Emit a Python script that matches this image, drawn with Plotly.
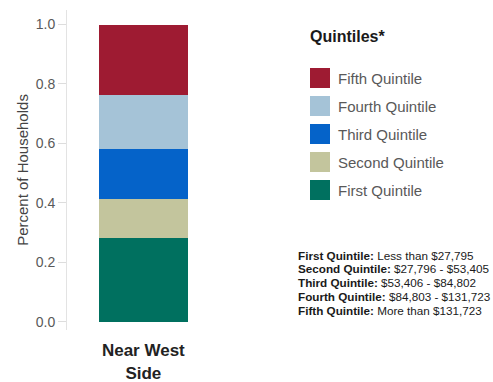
import plotly.graph_objects as go

# ---- data ----
neighborhood = ["Near West<br>Side"]
quintile_names = ["First Quintile", "Second Quintile", "Third Quintile", "Fourth Quintile", "Fifth Quintile"]
quintile_shares = [0.281, 0.132, 0.168, 0.182, 0.237]
quintile_colors = ["#00705F", "#C3C59D", "#0563C9", "#A5C3D7", "#9E1B32"]
income_ranges = ["Less than $27,795", "$27,796 - $53,405", "$53,406 - $84,802",
                 "$84,803 - $131,723", "More than $131,723"]
y_ticks = [0.0, 0.2, 0.4, 0.6, 0.8, 1.0]

W, H = 493, 382
L, R, T, B = 67, 290, 10, 330   # plot area in pixels
FONT = "Liberation Sans, Arial, sans-serif"


def px_x(px):
    return (px - L) / (R - L)


def px_y(py):
    return (B - py) / (B - T)


fig = go.Figure()
for name, val, col in zip(quintile_names, quintile_shares, quintile_colors):
    fig.add_trace(go.Bar(x=neighborhood, y=[val], name=name, marker_color=col,
                         marker_line_width=0, width=0.5, showlegend=False))

fig.update_layout(
    width=W, height=H,
    margin=dict(l=L, r=W - R, t=T, b=H - B, pad=0),
    barmode="stack",
    plot_bgcolor="white", paper_bgcolor="white",
    font=dict(family=FONT, color="#595959"),
    xaxis=dict(range=[-0.4304, 0.8267], showline=False, showgrid=False, zeroline=False,
               automargin=False,
               ticks="outside", ticklen=5, tickcolor="rgba(0,0,0,0)",
               tickfont=dict(size=17, color="#222222", family=FONT, weight="bold")),
    yaxis=dict(range=[-0.028, 1.0488], tickvals=y_ticks, ticktext=[f"{v:.1f}" for v in y_ticks],
               showgrid=False, zeroline=False, showline=True, linecolor="#e3e3e3", linewidth=1,
               automargin=False,
               ticks="outside", ticklen=8, tickcolor="#dddddd",
               tickfont=dict(size=14, color="#595959"),
               title=dict(text="Percent of Households", font=dict(size=15, color="#444444"),
                          standoff=3)),
)

# custom legend
fig.add_annotation(xref="paper", yref="paper", x=px_x(308), y=px_y(37), xanchor="left", yanchor="middle",
                   text="<b>Quintiles*</b>", showarrow=False,
                   font=dict(size=16, color="#1a1a1a"))
for i, (name, col) in enumerate(zip(quintile_names[::-1], quintile_colors[::-1])):
    top = 68 + 28 * i
    fig.add_shape(type="rect", xref="paper", yref="paper",
                  x0=px_x(310), x1=px_x(330), y0=px_y(top + 20), y1=px_y(top),
                  fillcolor=col, line_width=0)
    fig.add_annotation(xref="paper", yref="paper", x=px_x(336), y=px_y(top + 10),
                       xanchor="left", yanchor="middle", text=name, showarrow=False,
                       font=dict(size=15, color="#595959"))

# income range notes
for i, (name, rng) in enumerate(zip(quintile_names, income_ranges)):
    cy = 255 + 13.8 * i
    fig.add_annotation(xref="paper", yref="paper", x=px_x(296), y=px_y(cy),
                       xanchor="left", yanchor="middle",
                       text=f"<b>{name}:</b> {rng}", showarrow=False,
                       font=dict(size=11.7, color="#1a1a1a"))

fig.write_html("out.html")
